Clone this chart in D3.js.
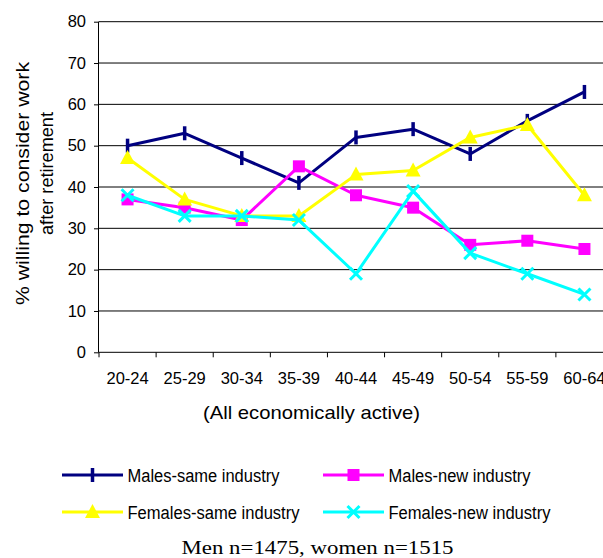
<!DOCTYPE html>
<html><head><meta charset="utf-8">
<script src="https://cdn.jsdelivr.net/npm/d3@7"></script>
<style>body{margin:0;background:#fff}svg{display:block}</style>
</head><body>
<script>
const categories = ["20-24","25-29","30-34","35-39","40-44","45-49","50-54","55-59","60-64"];
const malesSame    = [50, 53, 47, 41, 52, 54, 48, 56, 63];
const malesNew     = [37, 35, 32, 45, 38, 35, 26, 27, 25];
const femalesSame  = [47, 37, 33, 33, 43, 44, 52, 55, 38];
const femalesNew   = [38, 33, 33, 32, 19, 39, 24, 19, 14];
const yTicks = [0,10,20,30,40,50,60,70,80];
const seriesNames = ["Males-same industry","Males-new industry","Females-same industry","Females-new industry"];
const yTitle = ["% willing to consider work","after retirement"];
const xTitle = "(All economically active)";
const note = "Men n=1475, women n=1515";

const W = 603, H = 558;
const svg = d3.select("body").append("svg").attr("width", W).attr("height", H);
const font = "Liberation Sans, Arial, sans-serif";

const x = d3.scaleBand().domain(categories).range([99, 613]).padding(0);
const y = d3.scaleLinear().domain([0, 80]).range([352.3, 21.7]);

// gridlines
svg.append("g").selectAll("line").data(yTicks.filter(d => d > 0)).join("line")
  .attr("x1", 99).attr("x2", W).attr("y1", d => y(d)).attr("y2", d => y(d))
  .attr("stroke", "#000").attr("stroke-width", 1);

// y axis
const yAxis = svg.append("g").attr("transform", "translate(99,0)")
  .call(d3.axisLeft(y).tickValues(yTicks).tickSize(5).tickPadding(8));
yAxis.select(".domain").attr("stroke", "#000").attr("d", `M-0.5,${y(80)}V${y(0)}`);
yAxis.selectAll(".tick line").attr("stroke", "#000");
yAxis.selectAll("text").attr("font-family", font).attr("font-size", 16.5).attr("fill", "#000");

// x axis
const xg = svg.append("g").attr("transform", `translate(0,${y(0)})`);
xg.append("line").attr("x1", 99).attr("x2", W).attr("stroke", "#000");
const bounds = categories.map(c => x(c)).concat([x.range()[1]]);
xg.selectAll(".bt").data(bounds).join("line").attr("class", "bt")
  .attr("x1", d => d).attr("x2", d => d).attr("y1", 0).attr("y2", 5).attr("stroke", "#000");
xg.selectAll(".lbl").data(categories).join("text").attr("class", "lbl")
  .attr("x", d => x(d) + x.bandwidth() / 2).attr("y", 31.5)
  .attr("text-anchor", "middle").attr("font-family", font).attr("font-size", 16.5).text(d => d);

// titles
svg.append("text").attr("x", 311.5).attr("y", 419).attr("text-anchor", "middle")
  .attr("font-family", font).attr("font-size", 19)
  .attr("textLength", 217).attr("lengthAdjust", "spacingAndGlyphs").text(xTitle);
const yt = [{t: yTitle[0], x: 28.5, c: 183.5, L: 243}, {t: yTitle[1], x: 52.5, c: 173.5, L: 123}];
yt.forEach(d => {
  svg.append("text").attr("transform", `translate(${d.x},${d.c}) rotate(-90)`)
    .attr("text-anchor", "middle").attr("font-family", font).attr("font-size", 19)
    .attr("textLength", d.L).attr("lengthAdjust", "spacingAndGlyphs").text(d.t);
});

// series
const series = [
  {name: seriesNames[0], vals: malesSame, color: "#000080", marker: "bar"},
  {name: seriesNames[1], vals: malesNew, color: "#FF00FF", marker: "square"},
  {name: seriesNames[2], vals: femalesSame, color: "#FFFF00", marker: "triangle"},
  {name: seriesNames[3], vals: femalesNew, color: "#00FFFF", marker: "x"}
];
const cx = c => x(c) + x.bandwidth() / 2;
const line = d3.line().x((d, i) => cx(categories[i])).y(d => y(d));

function drawMarker(g, type, color, px, py) {
  if (type === "bar") {
    g.append("line").attr("x1", px).attr("x2", px).attr("y1", py - 7).attr("y2", py + 7)
      .attr("stroke", color).attr("stroke-width", 3.5);
  } else if (type === "square") {
    g.append("rect").attr("x", px - 6).attr("y", py - 6).attr("width", 12).attr("height", 12).attr("fill", color);
  } else if (type === "triangle") {
    g.append("path").attr("d", `M${px},${py - 8}L${px + 7.5},${py + 6}L${px - 7.5},${py + 6}Z`).attr("fill", color);
  } else {
    g.append("path").attr("d", `M${px - 6},${py - 6}L${px + 6},${py + 6}M${px + 6},${py - 6}L${px - 6},${py + 6}`)
      .attr("stroke", color).attr("stroke-width", 3);
  }
}

series.forEach(s => {
  const g = svg.append("g");
  g.append("path").attr("d", line(s.vals)).attr("fill", "none")
    .attr("stroke", s.color).attr("stroke-width", 3).attr("stroke-linejoin", "round");
  s.vals.forEach((v, i) => drawMarker(g, s.marker, s.color, cx(categories[i]), y(v)));
});

// legend
const legPos = [{x: 62, y: 475}, {x: 323, y: 475}, {x: 62, y: 512}, {x: 323, y: 512}];
const legLen = [152, 142, 172, 162];
series.forEach((s, i) => {
  const p = legPos[i];
  const g = svg.append("g");
  g.append("line").attr("x1", p.x).attr("x2", p.x + 61).attr("y1", p.y).attr("y2", p.y)
    .attr("stroke", s.color).attr("stroke-width", 3);
  drawMarker(g, s.marker, s.color, p.x + 30.5, p.y);
  g.append("text").attr("x", p.x + 65.5).attr("y", p.y + 6.5)
    .attr("font-family", font).attr("font-size", 18)
    .attr("textLength", legLen[i]).attr("lengthAdjust", "spacingAndGlyphs").text(s.name);
});

svg.append("text").attr("x", 181.5).attr("y", 554)
  .attr("font-family", "Liberation Serif, Times New Roman, serif").attr("font-size", 19)
  .attr("textLength", 272).attr("lengthAdjust", "spacingAndGlyphs").text(note);
</script>
</body></html>
